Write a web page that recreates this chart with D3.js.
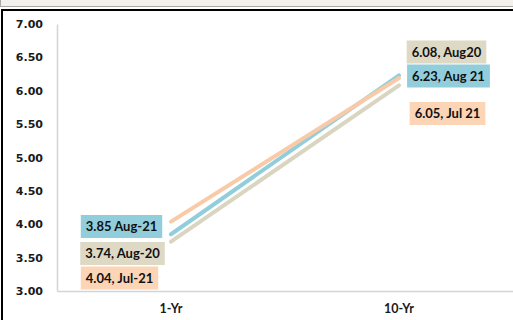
<!DOCTYPE html>
<html>
<head>
<meta charset="utf-8">
<script src="https://cdn.jsdelivr.net/npm/d3@7"></script>
<style>
  body { margin: 0; background: #fff; }
  svg { display: block; }
</style>
</head>
<body>
<svg id="chart" width="513" height="320"></svg>
<script>
'use strict';

// tenors on the x axis
const categories = ["1-Yr", "10-Yr"];
// yields per series, same order as categories
const jul21 = [4.04, 6.19];
const aug21 = [3.85, 6.23];
const aug20 = [3.74, 6.08];
const yTicks = [3.0, 3.5, 4.0, 4.5, 5.0, 5.5, 6.0, 6.5, 7.0];

// data label texts (as written on the chart)
const labelsAug21 = ["3.85 Aug-21", "6.23, Aug 21"];
const labelsAug20 = ["3.74, Aug-20", "6.08, Aug20"];
const labelsJul21 = ["4.04, Jul-21", "6.05, Jul 21"];

const series = [
  { name: "Aug-20", values: aug20, labels: labelsAug20, line: "#d9d5c0", box: "#ddd9c4" },
  { name: "Aug-21", values: aug21, labels: labelsAug21, line: "#92cddc", box: "#92cddc" },
  { name: "Jul-21", values: jul21, labels: labelsJul21, line: "#f9caa7", box: "#fbd5b5" }
];

// where the label boxes sit (box centre, pixels) - layout only
const labelPos = {
  "Aug-21": [[121.5, 226.5], [448.5, 76]],
  "Aug-20": [[122.5, 253.5], [446.5, 52]],
  "Jul-21": [[119.5, 278], [447.5, 113.5]]
};

const svg = d3.select("#chart");
const W = 513, H = 320;
const mLeft = 57, mTop = 24, mBottom = 291;

// window frame bits
svg.append("rect").attr("x", 0).attr("y", 0).attr("width", W).attr("height", 6.5).attr("fill", "#f3f1ec");
svg.append("line").attr("x1", 0).attr("x2", W).attr("y1", 6.5).attr("y2", 6.5).attr("stroke", "#a8a8a8");
svg.append("line").attr("x1", 0.5).attr("x2", 0.5).attr("y1", 0).attr("y2", 6.5).attr("stroke", "#a8a8a8");
svg.append("line").attr("x1", 1).attr("x2", W).attr("y1", 10).attr("y2", 10).attr("stroke", "#000").attr("stroke-width", 2);
svg.append("line").attr("x1", 2).attr("x2", 2).attr("y1", 9).attr("y2", H).attr("stroke", "#000").attr("stroke-width", 2);

const x = d3.scaleBand().domain(categories).range([mLeft, W]);
const y = d3.scaleLinear().domain([3, 7]).range([mBottom, mTop]);
const cx = d => x(d) + x.bandwidth() / 2;

// y axis
const yAxis = svg.append("g").attr("transform", "translate(" + mLeft + ",0)")
  .call(d3.axisLeft(y).tickValues(yTicks).tickFormat(d3.format(".2f")).tickSize(0).tickPadding(14));
yAxis.select(".domain").attr("stroke", "#d4d4d4").attr("stroke-width", 1.5);
yAxis.selectAll("text")
  .attr("font-family", "DejaVu Sans").attr("font-weight", "bold").attr("font-size", 11).attr("fill", "#1a1a1a");

// x axis
const xAxis = svg.append("g").attr("transform", "translate(0," + mBottom + ")")
  .call(d3.axisBottom(x).tickSize(0).tickPadding(13));
xAxis.select(".domain").attr("stroke", "#d4d4d4").attr("stroke-width", 1.5);
xAxis.selectAll("text")
  .attr("font-family", "Lato").attr("font-weight", "bold").attr("font-size", 12.5).attr("fill", "#1a1a1a");

// lines
const line = d3.line().x((d, i) => cx(categories[i])).y(d => y(d));
svg.append("g").selectAll("path").data(series).join("path")
  .attr("d", s => line(s.values))
  .attr("fill", "none")
  .attr("stroke", s => s.line)
  .attr("stroke-width", 4)
  .attr("stroke-linecap", "round");

// label boxes
series.forEach(s => {
  s.labels.forEach((txt, i) => {
    const p = labelPos[s.name][i];
    const g = svg.append("g").attr("transform", "translate(" + p[0] + "," + p[1] + ")");
    const rect = g.append("rect").attr("fill", s.box);
    const t = g.append("text").text(txt)
      .attr("text-anchor", "middle").attr("dy", "0.36em")
      .attr("font-family", "Lato").attr("font-weight", "bold").attr("font-size", 13).attr("fill", "#111");
    const w = t.node().getComputedTextLength() + 10;
    rect.attr("x", -w / 2).attr("y", -11.5).attr("width", w).attr("height", 23);
  });
});
</script>
</body>
</html>
